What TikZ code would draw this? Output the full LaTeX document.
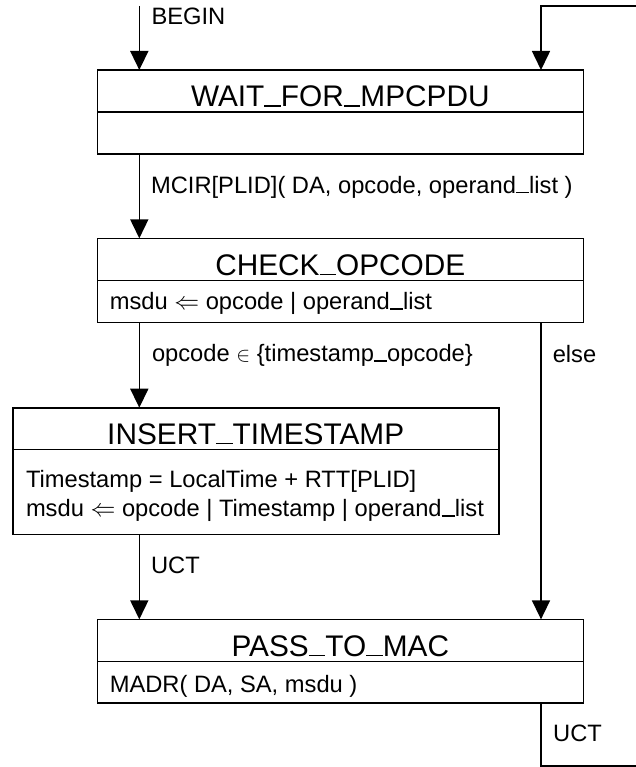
\documentclass[tikz,border=0pt]{standalone}
\usepackage{fontspec}
\setmainfont{Liberation Sans}
\usetikzlibrary{arrows.meta}
\newcommand{\lblfont}{\fontsize{23.7}{29}\selectfont}
\newcommand{\ttlfont}{\fontsize{29.8}{36}\selectfont}
\newcommand{\us}{\rule[0em]{0.556em}{0.055em}}
\newcommand{\elem}{{\fontsize{21}{22}\selectfont$\in$}}
\begin{document}
\begin{tikzpicture}[x=1pt,y=-1pt,
  line width=1.6pt,
  ttlbox/.style={draw, rectangle, inner sep=0pt, outer sep=0pt, minimum width=486pt, minimum height=42.3pt,
    text height=31.6pt, text depth=0pt, font=\ttlfont},
  bodybox/.style={draw, rectangle, inner sep=0pt, outer sep=0pt, minimum width=486pt, anchor=north},
  lbl/.style={anchor=base west, inner sep=0pt, font=\lblfont},
  arr/.style={-{Triangle[length=19pt,width=18pt]}}
]
\fill[white] (0,0) rectangle (636,767);
\useasboundingbox (0,0) rectangle (636,767);

% states
\node[ttlbox] (wait) at (340.3,91.15) {WAIT\us FOR\us MPCPDU};
\node[bodybox, minimum height=41.7pt] (waitb) at (wait.south) {};

\node[ttlbox] (check) at (340.3,259.5) {CHECK\us OPCODE};
\node[bodybox, minimum height=42pt] (checkb) at (check.south) {};
\node[lbl] (checkt) at (109,309.5) {msdu $\Leftarrow$ opcode | operand\us list};

\node[ttlbox, minimum height=41.6pt] (ins) at (255.7,428.5) {INSERT\us TIMESTAMP};
\node[bodybox, minimum height=85pt] (insb) at (ins.south) {};
\node[lbl] (inst1) at (25.2,487.7) {Timestamp = LocalTime + RTT[PLID]};
\node[lbl] (inst2) at (25.2,516.7) {msdu $\Leftarrow$ opcode | Timestamp | operand\us list};

\node[ttlbox] (pass) at (340.3,640.5) {PASS\us TO\us MAC};
\node[bodybox, minimum height=41.6pt] (passb) at (pass.south) {};
\node[lbl] (passt) at (109,692.7) {MADR( DA, SA, msdu )};

% coordinates
\coordinate (lx) at (139.3,6);
\coordinate (rx) at (541,6);
\coordinate (loopbr) at (642,765.7);
\coordinate (looptr) at (642,6);

% connectors
\draw[arr] (lx) -- (wait.north -| lx);
\draw[arr] (waitb.south -| lx) -- (check.north -| lx);
\draw[arr] (checkb.south -| lx) -- (ins.north -| lx);
\draw[arr] (insb.south -| lx) -- (pass.north -| lx);
\draw[arr] (checkb.south -| rx) -- (pass.north -| rx);
\draw[arr] (passb.south -| rx) |- (loopbr) -- (looptr) -| (wait.north -| rx);

% labels
\node[lbl] (lbegin) at (150.8,25) {BEGIN};
\node[lbl] (lmcir) at (150.3,193.3) {MCIR[PLID]( DA, opcode, operand\us list )};
\node[lbl] (lopc) at (151.2,361.7) {opcode \elem\ \{timestamp\us opcode\}};
\node[lbl] (lelse) at (552,362.3) {else};
\node[lbl] (luct1) at (150.3,573.5) {UCT};
\node[lbl] (luct2) at (552.4,741.7) {UCT};
\end{tikzpicture}
\end{document}
